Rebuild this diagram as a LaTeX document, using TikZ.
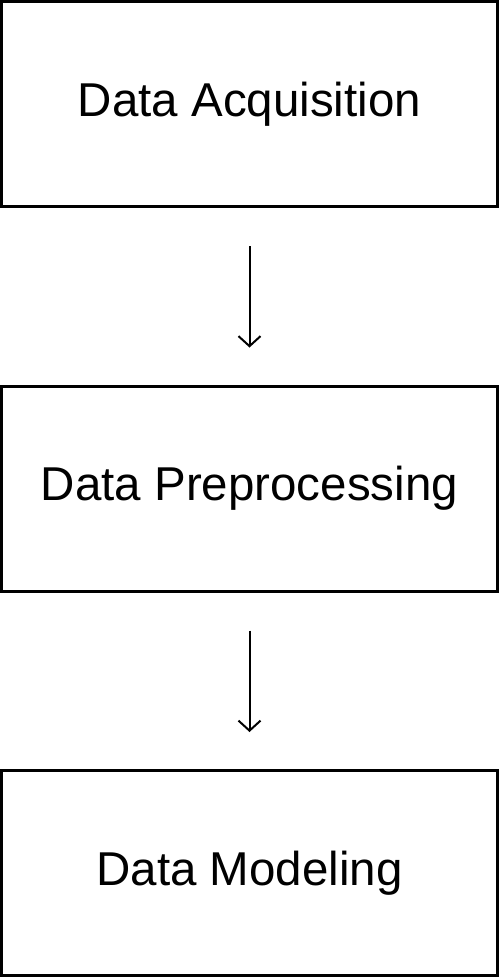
\documentclass[tikz,border=0pt]{standalone}
\usepackage{fontspec}
\setmainfont{Liberation Sans}
\usetikzlibrary{arrows.meta,positioning}

\begin{document}
\begin{tikzpicture}[x=1pt,y=1pt,node distance=176.5pt,every node/.style={font=\fontsize{47.5}{50}\selectfont},
 b/.style={draw,line width=3pt,minimum width=496pt,minimum height=205pt,inner sep=0pt,align=center},
 arr/.style={-{Straight Barb[length=10pt,width=22pt,line width=2pt]},line width=2pt,shorten <=38pt,shorten >=37pt}]
\useasboundingbox (0,0) rectangle (499,-977);
\node[b] (acq) at (249.5,-104) {Data Acquisition};
\node[b,below=of acq] (pre) {Data Preprocessing};
\node[b,below=of pre] (mod) {Data Modeling};
\draw[arr](acq)--(pre);\draw[arr](pre)--(mod);
\end{tikzpicture}
\end{document}
